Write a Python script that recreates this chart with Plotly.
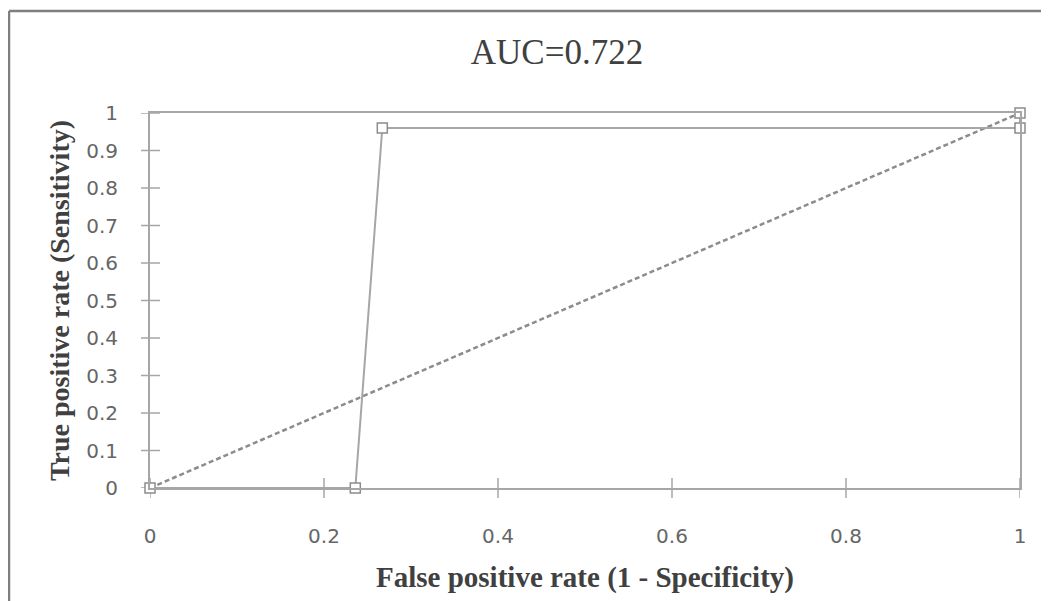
import plotly.graph_objects as go

# ROC curve points
fpr = [0, 0.236, 0.267, 1, 1]
tpr = [0, 0, 0.96, 0.96, 1]
# reference (chance) line
ref_x = [0, 1]
ref_y = [0, 1]

x_ticks = [0, 0.2, 0.4, 0.6, 0.8, 1]
y_ticks = [0, 0.1, 0.2, 0.3, 0.4, 0.5, 0.6, 0.7, 0.8, 0.9, 1]

title_text = "AUC=0.722"
x_title = "False positive rate (1 - Specificity)"
y_title = "True positive rate (Sensitivity)"

grey = "#a6a6a6"
OFF = 8  # page body margin offset

# desired positions in page pixels
PL, PR, PT, PB = 150, 1020, 113, 488
W, H = 1049 - OFF, 601 - OFF
L, T = PL - OFF, PT - OFF
R = W - (PR - OFF)
B = H - (PB - OFF)
pw, ph = W - L - R, H - T - B

def px_x(p):
    return (p - OFF - L) / pw

def px_y(p):
    return 1 - (p - OFF - T) / ph

fig = go.Figure()
fig.add_trace(go.Scatter(
    x=ref_x, y=ref_y, mode="lines",
    line=dict(color="#8c8c8c", width=2.5, dash="5px,3px"),
    cliponaxis=False, showlegend=False, hoverinfo="skip"))
fig.add_trace(go.Scatter(
    x=fpr, y=tpr, mode="lines+markers",
    line=dict(color=grey, width=2),
    marker=dict(symbol="square", size=10, color="white",
                line=dict(color="#8c8c8c", width=1.5)),
    cliponaxis=False, showlegend=False))

# crossing tick marks
for v in y_ticks:
    fig.add_shape(type="line", xref="paper", yref="y",
                  x0=px_x(141), x1=px_x(160), y0=v, y1=v,
                  line=dict(color=grey, width=1.5), layer="below")
for v in x_ticks:
    fig.add_shape(type="line", xref="x", yref="paper",
                  x0=v, x1=v, y0=px_y(478), y1=px_y(498),
                  line=dict(color=grey, width=1.5), layer="below")

# outer chart border (only top and left visible in the reference)
fig.add_shape(type="line", xref="paper", yref="paper",
              x0=px_x(9), x1=px_x(1070), y0=px_y(11), y1=px_y(11),
              line=dict(color="#7f7f7f", width=2.5))
fig.add_shape(type="line", xref="paper", yref="paper",
              x0=px_x(9), x1=px_x(9), y0=px_y(11), y1=px_y(640),
              line=dict(color="#7f7f7f", width=2.5))

fig.update_layout(
    width=W, height=H,
    margin=dict(l=L, r=R, t=T, b=B),
    paper_bgcolor="white", plot_bgcolor="white",
    title=dict(text=title_text, x=(557 - OFF) / W, xanchor="center",
               y=1 - (52 - OFF) / H, yanchor="middle",
               font=dict(family="Liberation Serif", size=35, color="#404040")),
    xaxis=dict(range=[0, 1], tickvals=x_ticks, ticktext=[str(v) for v in x_ticks],
               showgrid=False, zeroline=False, showline=True, mirror=True,
               linecolor=grey, linewidth=2, ticks="outside", ticklen=29,
               tickcolor="rgba(0,0,0,0)",
               tickfont=dict(family="DejaVu Sans", size=20, color="#666666"),
               title=dict(text="<b>" + x_title + "</b>", standoff=20,
                          font=dict(family="Liberation Serif", size=29, color="#404040"))),
    yaxis=dict(range=[0, 1], tickvals=y_ticks, ticktext=[str(v) for v in y_ticks],
               showgrid=False, zeroline=False, showline=True, mirror=True,
               linecolor=grey, linewidth=2, ticks="outside", ticklen=26,
               tickcolor="rgba(0,0,0,0)",
               tickfont=dict(family="DejaVu Sans", size=20, color="#666666"),
               title=dict(text="<b>" + y_title + "</b>", standoff=8,
                          font=dict(family="Liberation Serif", size=28, color="#404040"))),
)

fig.write_html("out.html")
